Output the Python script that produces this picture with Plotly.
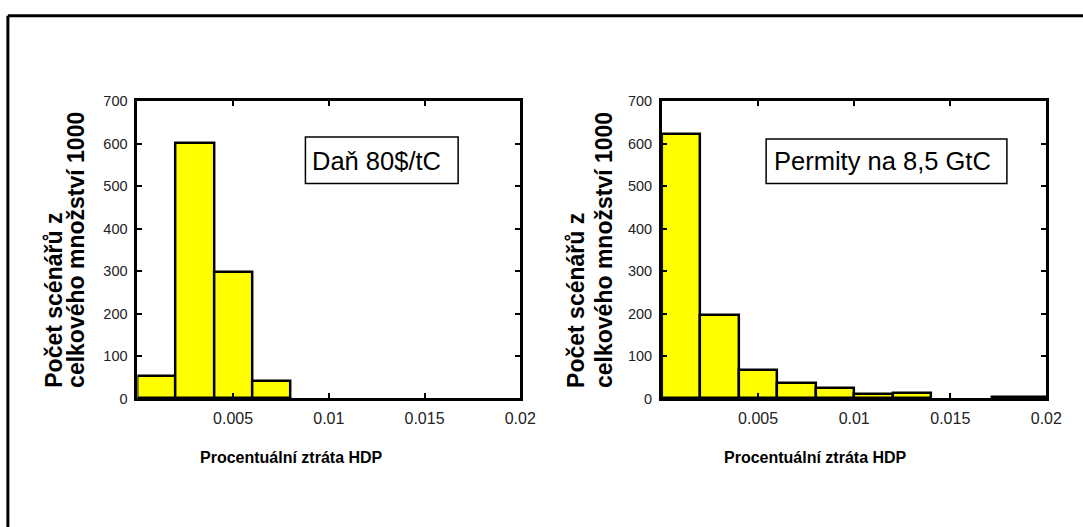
import plotly.graph_objects as go

W, H = 1083, 527

# ---- data ----
tax_bin_left = [0.0, 0.002, 0.004, 0.006]
tax_bin_right = [0.002, 0.004, 0.006, 0.008]
tax_counts = [52, 600, 298, 40]

perm_bin_left = [0.0, 0.002, 0.004, 0.006, 0.008, 0.010, 0.012, 0.0172]
perm_bin_right = [0.002, 0.004, 0.006, 0.008, 0.010, 0.012, 0.014, 0.020]
perm_counts = [622, 196, 68, 37, 25, 11, 13, 4]

x_tickvals = [0.005, 0.01, 0.015, 0.02]
x_ticktext = ["0.005", "0.01", "0.015", "0.02"]
y_tickvals = [0, 100, 200, 300, 400, 500, 600, 700]

ytitle_line1 = "Počet scénářů z"
ytitle_line2 = "celkového množství 1000"
xtitle = "Procentuální ztráta HDP"
label_tax = "Daň 80$/tC"
label_perm = "Permity na 8,5 GtC"

FONT = "Liberation Sans, Arial, sans-serif"


def px(x):
    return x / W


def py(y):
    return 1 - y / H


def bars(left, right, counts, xa, ya):
    centers = [(l + r) / 2 for l, r in zip(left, right)]
    widths = [r - l for l, r in zip(left, right)]
    return go.Bar(
        x=centers, y=counts, width=widths, xaxis=xa, yaxis=ya,
        marker=dict(color="#FFFF00", line=dict(color="black", width=2.5)),
        showlegend=False, hoverinfo="y",
    )


fig = go.Figure()
fig.add_trace(bars(tax_bin_left, tax_bin_right, tax_counts, "x", "y"))
fig.add_trace(bars(perm_bin_left, perm_bin_right, perm_counts, "x2", "y2"))

xcommon = dict(
    range=[0, 0.02], tickvals=x_tickvals, ticktext=x_ticktext,
    ticks="inside", ticklen=5, tickwidth=1.5, tickcolor="black",
    showline=True, linecolor="black", linewidth=3, mirror="ticks",
    showgrid=False, zeroline=False, fixedrange=True,
    tickfont=dict(family=FONT, size=16, color="#222"), ticklabelstandoff=3,
)
ycommon = dict(
    range=[0, 700], tickvals=y_tickvals,
    ticks="inside", ticklen=5, tickwidth=1.5, tickcolor="black",
    showline=True, linecolor="black", linewidth=3, mirror="ticks",
    showgrid=False, zeroline=False, fixedrange=True,
    tickfont=dict(family=FONT, size=14.5, color="#222"), ticklabelstandoff=4,
)

fig.update_layout(
    width=W, height=H,
    margin=dict(l=0, r=0, t=0, b=0),
    paper_bgcolor="white", plot_bgcolor="white",
    bargap=0,
    xaxis=dict(domain=[px(139.5), px(528)], anchor="y", **xcommon),
    yaxis=dict(domain=[py(402.7), py(96)], anchor="x", **ycommon),
    xaxis2=dict(domain=[px(672), px(1062)], anchor="y2", **xcommon),
    yaxis2=dict(domain=[py(402.7), py(96)], anchor="x2", **ycommon),
)

annotations = []
shapes = []

# outer frame (only top and left edges visible)
shapes.append(dict(type="line", xref="paper", yref="paper",
                   x0=px(8), y0=py(8), x1=1.02, y1=py(8),
                   line=dict(color="black", width=3)))
shapes.append(dict(type="line", xref="paper", yref="paper",
                   x0=px(8), y0=py(8), x1=px(8), y1=-0.02,
                   line=dict(color="black", width=3)))

for (x1c, x2c, ybot, xt_c) in [(54, 77, 394, 296), (584, 613, 394, 828)]:
    annotations.append(dict(text=ytitle_line1, xref="paper", yref="paper",
                            x=px(x1c), y=py(ybot), xanchor="center", yanchor="bottom",
                            textangle=-90, showarrow=False,
                            font=dict(family=FONT, size=23, color="black", weight="bold")))
    annotations.append(dict(text=ytitle_line2, xref="paper", yref="paper",
                            x=px(x2c), y=py(ybot), xanchor="center", yanchor="bottom",
                            textangle=-90, showarrow=False,
                            font=dict(family=FONT, size=23, color="black", weight="bold")))
    annotations.append(dict(text=xtitle, xref="paper", yref="paper",
                            x=px(xt_c), y=py(464), xanchor="center", yanchor="middle",
                            showarrow=False,
                            font=dict(family=FONT, size=16, color="black", weight="bold")))

# label boxes: box left, right, top, bottom, text centre x, text centre y
for (xl, xr, yt, yb, tx, ty, txt) in [(310, 465, 133, 181, 382, 158, label_tax),
                                      (777.6, 1022, 135, 181, 896, 158, label_perm)]:
    shapes.append(dict(type="rect", xref="paper", yref="paper",
                       x0=px(xl), x1=px(xr), y0=py(yb), y1=py(yt),
                       line=dict(color="black", width=1.5), fillcolor="white"))
    annotations.append(dict(text=txt, xref="paper", yref="paper",
                            x=px(tx), y=py(ty),
                            xanchor="center", yanchor="middle", showarrow=False,
                            font=dict(family=FONT, size=25.5, color="black")))

fig.update_layout(annotations=annotations, shapes=shapes)

fig.write_html(
    "out.html",
    config={"displayModeBar": False},
    post_script="document.body.style.margin='0';"
                "document.body.style.overflow='hidden';"
                "document.documentElement.style.overflow='hidden';",
)
